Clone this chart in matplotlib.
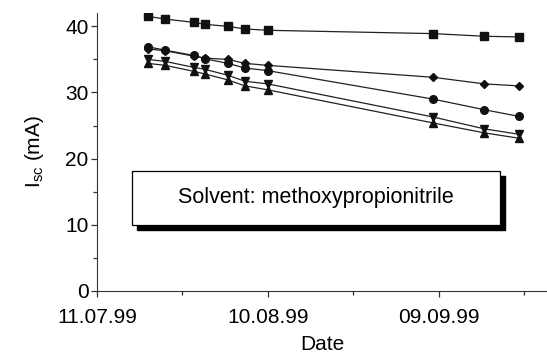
import numpy as np
import matplotlib
matplotlib.use("Agg")
import matplotlib.pyplot as plt
from matplotlib.patches import Rectangle

plt.rcParams['font.family'] = ['Liberation Sans', 'DejaVu Sans']

# measurement dates and short-circuit currents (mA)
dates = np.array(['1999-07-20', '1999-07-23', '1999-07-28', '1999-07-30', '1999-08-03',
                  '1999-08-06', '1999-08-10', '1999-09-08', '1999-09-17', '1999-09-23'],
                 dtype='datetime64[D]')
isc_square = [41.5, 41.1, 40.6, 40.3, 40.0, 39.6, 39.4, 38.9, 38.5, 38.4]
isc_diamond = [36.6, 36.3, 35.5, 35.2, 35.0, 34.4, 34.1, 32.3, 31.3, 31.0]
isc_circle = [36.9, 36.4, 35.6, 35.1, 34.4, 33.7, 33.3, 29.0, 27.4, 26.4]
isc_tri_down = [35.0, 34.7, 33.8, 33.5, 32.6, 31.7, 31.3, 26.3, 24.5, 23.7]
isc_tri_up = [34.4, 34.1, 33.2, 32.8, 31.9, 31.0, 30.4, 25.4, 23.9, 23.1]

major_ticks = np.array(['1999-07-11', '1999-08-10', '1999-09-09'], dtype='datetime64[D]')
major_labels = ['11.07.99', '10.08.99', '09.09.99']
minor_ticks = np.array(['1999-07-26', '1999-08-25', '1999-09-24'], dtype='datetime64[D]')

fig = plt.figure(figsize=(5.47, 3.54), dpi=100)
ax = fig.add_axes([0.177, 0.178, 0.823, 0.785])

series = [(isc_square, 's', 5.5), (isc_diamond, 'D', 4.5), (isc_circle, 'o', 5.5),
          (isc_tri_down, 'v', 6), (isc_tri_up, '^', 6)]
for vals, mk, ms in series:
    ax.plot(dates, vals, color='#222222', lw=0.9, marker=mk, ms=ms,
            mfc='#111111', mec='#111111')

ax.set_xlim(np.datetime64('1999-07-11'), np.datetime64('1999-09-28'))
ax.set_ylim(0, 42)
ax.set_xticks(major_ticks)
ax.set_xticklabels(major_labels)
ax.set_xticks(minor_ticks, minor=True)
ax.set_yticks([0, 10, 20, 30, 40])
ax.set_yticks([5, 15, 25, 35], minor=True)

for s in ['top', 'right']:
    ax.spines[s].set_visible(False)
ax.spines['left'].set_color('#333333')
ax.spines['bottom'].set_color('#333333')
ax.tick_params(which='major', length=4, width=0.9, labelsize=15, color='#333333')
ax.tick_params(axis='x', which='major', pad=8)
ax.tick_params(axis='y', which='major', pad=2)
ax.tick_params(which='minor', length=3, width=0.9, color='#333333')

ax.set_xlabel('Date', fontsize=15, labelpad=6)
ax.set_ylabel('I$_{\\mathregular{sc}}$ (mA)', fontsize=15, labelpad=14)

# text box with drop shadow
fig.patches.append(Rectangle((0.250, 0.350), 0.673, 0.153, transform=fig.transFigure,
                             fc='black', ec='black', zorder=3))
fig.patches.append(Rectangle((0.241, 0.364), 0.673, 0.153, transform=fig.transFigure,
                             fc='white', ec='black', lw=0.9, zorder=4))
fig.text(0.578, 0.441, 'Solvent: methoxypropionitrile', fontsize=15.5,
         ha='center', va='center', zorder=5)

fig.savefig('out.png', dpi=100)
